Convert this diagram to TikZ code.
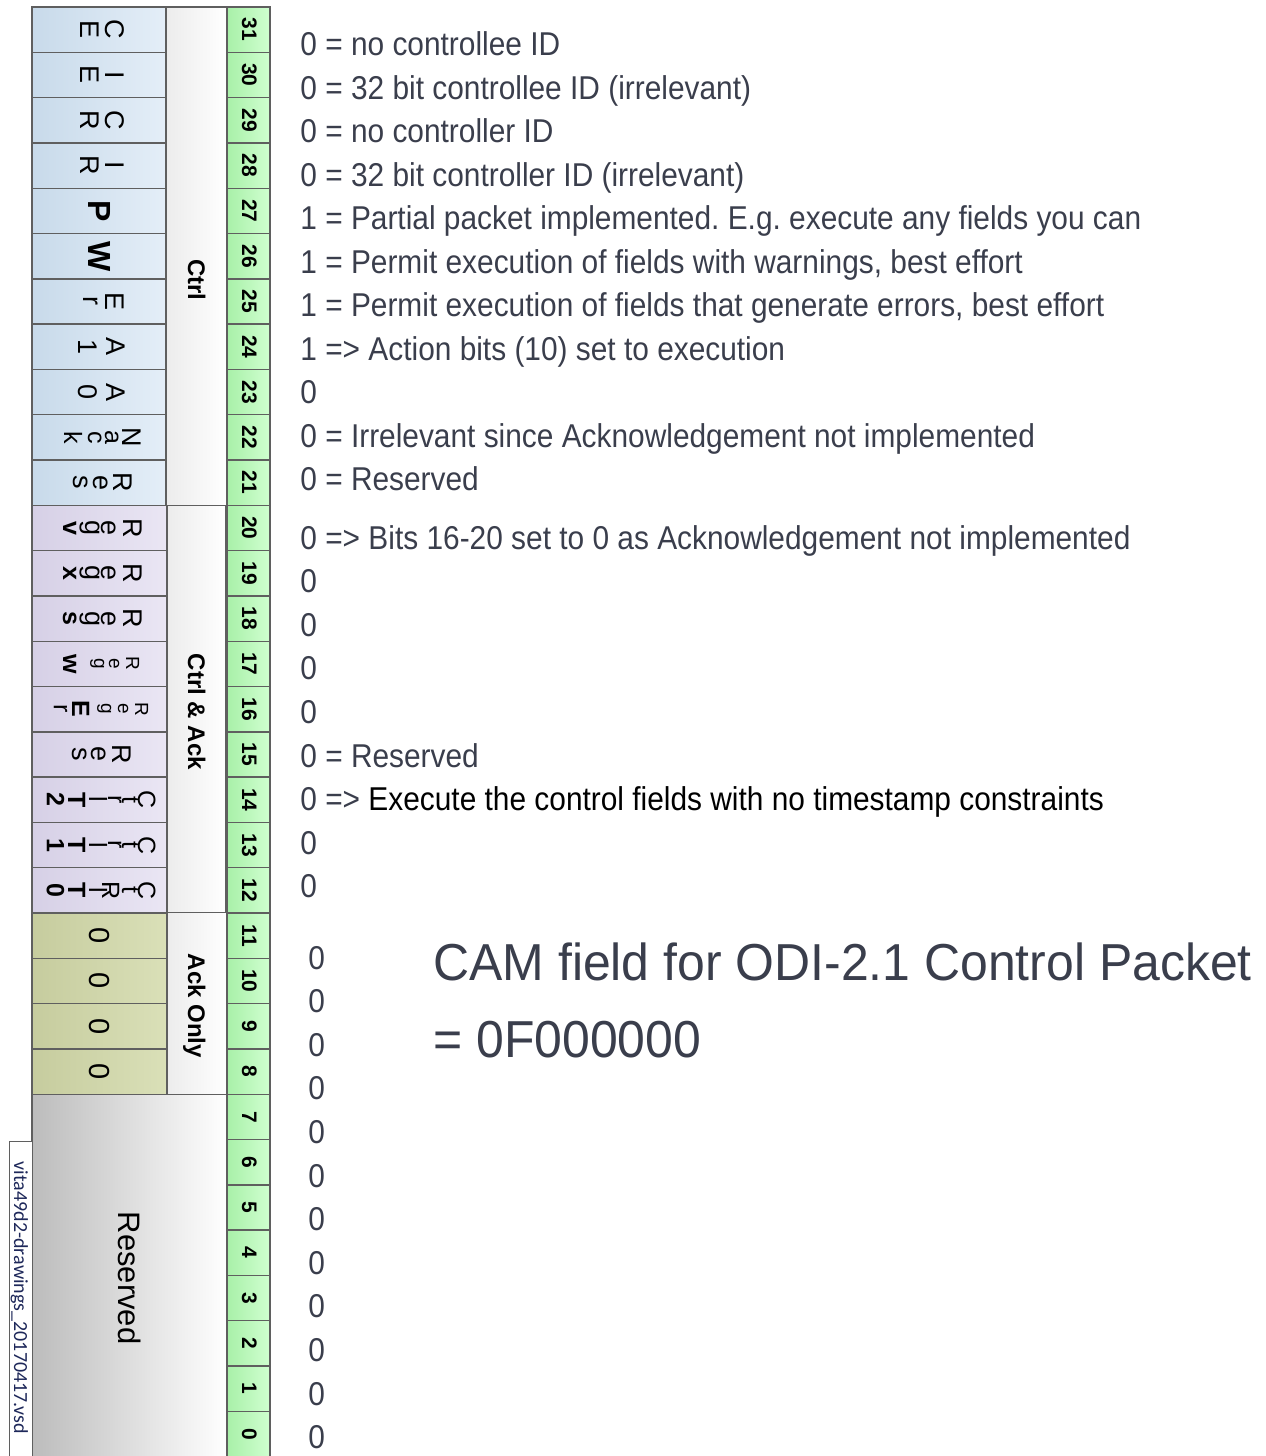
\documentclass[tikz,border=0pt]{standalone}
\usepackage{fontspec}
\setmainfont{Liberation Sans}
\newfontfamily\bodyfont[FakeStretch=0.905]{Liberation Sans}
\newfontfamily\titlefont[FakeStretch=0.96]{Liberation Sans}
\newfontfamily\filefont{Carlito}
\definecolor{txt}{RGB}{58,62,76}
\definecolor{blueL}{RGB}{200,218,234}
\definecolor{blueR}{RGB}{228,238,248}
\definecolor{purL}{RGB}{214,208,230}
\definecolor{purR}{RGB}{234,230,244}
\definecolor{oliL}{RGB}{198,204,158}
\definecolor{oliR}{RGB}{218,224,184}
\definecolor{grnL}{RGB}{168,240,168}
\definecolor{grnR}{RGB}{208,255,208}
\definecolor{lblL}{RGB}{236,236,236}
\definecolor{resL}{RGB}{188,188,188}
\definecolor{edge}{RGB}{95,95,95}
\definecolor{filetxt}{RGB}{30,40,90}
\begin{document}
\frenchspacing
\begin{tikzpicture}[x=0.5pt,y=-0.5pt,
  box/.style={draw=edge, line width=0.7pt},
  fn/.style={rotate=-90, anchor=base, inner sep=0pt, font=\fontsize{13.5}{12}\selectfont},
  fm/.style={rotate=-90, anchor=base, inner sep=0pt, font=\fontsize{12.5}{12}\selectfont},
  fs/.style={rotate=-90, anchor=base, inner sep=0pt, font=\fontsize{9.5}{10}\selectfont},
  fb/.style={rotate=-90, anchor=base, inner sep=0pt, font=\fontsize{12.5}{12}\selectfont\bfseries},
  fB/.style={rotate=-90, anchor=base, inner sep=0pt, font=\fontsize{16}{16}\selectfont\bfseries},
  fz/.style={rotate=-90, anchor=base, inner sep=0pt, font=\fontsize{14.5}{15}\selectfont},
  bitnum/.style={rotate=-90, anchor=base, inner sep=0pt, font=\fontsize{10.5}{11}\selectfont\bfseries},
  grp/.style={rotate=-90, anchor=base, inner sep=0pt, font=\fontsize{12}{12}\selectfont\bfseries},
  rtxt/.style={anchor=base west, inner sep=0pt, text=txt, font=\bodyfont\fontsize{16.5}{18}\selectfont},
  ttl/.style={anchor=base west, inner sep=0pt, text=txt, font=\titlefont\fontsize{26}{28}\selectfont}
]
\useasboundingbox (0,0) rectangle (1265,1456);
\clip (0,0) rectangle (1265,1456);

% group label column
\draw[box, left color=lblL, right color=white] (166,7) rectangle (227,505.3);
\draw[box, left color=lblL, right color=white] (167,505.3) rectangle (226,912.7);
\draw[box, left color=lblL, right color=white] (167,912.7) rectangle (227,1094.2);
\node[grp] (gctrl) at (188,280) {Ctrl};
\node[grp] (gctrlack) at (188,712) {Ctrl \& Ack};
\node[grp] (gack) at (188,1006) {Ack Only};

% field boxes
\foreach \b in {31,...,0} {
  \pgfmathsetmacro\ytop{7+(31-\b)*45.3}
  \pgfmathsetmacro\ybot{\ytop+45.3}
  \ifnum\b>20
    \draw[box, left color=blueL, right color=blueR] (32,\ytop) rectangle (166,\ybot);
  \else\ifnum\b>11
    \draw[box, left color=purL, right color=purR] (32,\ytop) rectangle (167,\ybot);
  \else\ifnum\b>7
    \draw[box, left color=oliL, right color=oliR] (32,\ytop) rectangle (167,\ybot);
  \fi\fi\fi
  \draw[box, left color=grnL, right color=grnR] (227,\ytop) rectangle (270,\ybot);
}
% reserved block
\draw[box, left color=resL, right color=white] (32,1094.2) rectangle (227,1470);
\node[rotate=-90, anchor=base, inner sep=0pt, font=\fontsize{15.5}{16}\selectfont] (resv) at (118,1278) {Reserved};

% bit numbers
\foreach \b in {31,...,0} {
  \pgfmathsetmacro\ymid{29.65+(31-\b)*45.3}
  \node[bitnum] (n\b) at (242,\ymid) {\b};
}

% field letters
\foreach \b/\y/\items in {
  31/29.65/{C/105/fn,E/80/fn},
  30/74.95/{I/105/fn,E/80/fn},
  29/120.25/{C/105/fn,R/80/fn},
  28/165.55/{I/105/fn,R/80/fn},
  27/210.85/{P/88/fB},
  26/256.15/{W/88/fB},
  25/301.45/{E/105/fn,r/83/fn},
  24/346.75/{A/106/fn,1/78/fn},
  23/392.05/{A/106/fn,0/78/fn},
  22/437.35/{N/122/fn,a/105/fm,c/88/fm,k/64/fm},
  21/482.65/{R/113/fn,e/93/fn,s/73/fn},
  20/527.95/{R/123/fn,e/101/fn,g/85/fn,v/63/fb},
  19/573.25/{R/123/fn,e/101/fn,g/85/fn,x/63/fb},
  18/618.55/{R/123/fn,e/101/fn,g/85/fn,s/63/fb},
  17/663.85/{R/126/fs,e/109/fs,g/94/fs,w/63/fb},
  16/709.15/{R/135/fs,e/118/fs,g/101/fs,E/72/fb,r/54/fm},
  15/754.45/{R/112/fn,e/91/fn,s/72/fn},
  14/799.75/{C/138/fm,t/122/fm,r/108/fm,l/89/fm,T/68/fb,2/47/fb},
  13/845.05/{C/138/fm,t/122/fm,r/108/fm,l/89/fm,T/68/fb,1/47/fb},
  12/890.35/{C/138/fm,t/122/fm,R/102/fm,l/89/fm,T/68/fb,0/47/fb},
  11/935.65/{0/89/fz},
  10/980.95/{0/89/fz},
  9/1026.25/{0/89/fz},
  8/1071.55/{0/89/fz}} {
  \foreach \c/\x/\s [count=\k] in \items {
    \node[\s] (c\b-\k) at (\x,\y) {\c};
  }
}

% file name tag
\draw[draw=edge, line width=0.5pt, fill=white] (9.5,1141) rectangle (32,1470);
\node[rotate=-90, anchor=base, inner sep=0pt, text=filetxt, font=\filefont\fontsize{10}{11}\selectfont] (fname) at (14,1298) {vita49d2-drawings\_20170417.vsd};

% descriptions
\node[rtxt] (d31) at (300,55.5) {0 = no controllee ID};
\node[rtxt] (d30) at (300,99) {0 = 32 bit controllee ID (irrelevant)};
\node[rtxt] (d29) at (300,142.5) {0 = no controller ID};
\node[rtxt] (d28) at (300,186) {0 = 32 bit controller ID (irrelevant)};
\node[rtxt] (d27) at (300,229.5) {1 = Partial packet implemented. E.g. execute any fields you can};
\node[rtxt] (d26) at (300,273) {1 = Permit execution of fields with warnings, best effort};
\node[rtxt] (d25) at (300,316.5) {1 = Permit execution of fields that generate errors, best effort};
\node[rtxt] (d24) at (300,360) {1 => Action bits (10) set to execution};
\node[rtxt] (d23) at (300,403.5) {0};
\node[rtxt] (d22) at (300,447) {0 = Irrelevant since Acknowledgement not implemented};
\node[rtxt] (d21) at (300,490.5) {0 = Reserved};
\node[rtxt] (d20) at (300,549) {0 => Bits 16-20 set to 0 as Acknowledgement not implemented};
\node[rtxt] (d19) at (300,592.6) {0};
\node[rtxt] (d18) at (300,636.2) {0};
\node[rtxt] (d17) at (300,679.8) {0};
\node[rtxt] (d16) at (300,723.4) {0};
\node[rtxt] (d15) at (300,767) {0 = Reserved};
\node[rtxt] (d14) at (300,810.6) {0 => \textcolor{black}{Execute the control fields with no timestamp constraints}};
\node[rtxt] (d13) at (300,854.2) {0};
\node[rtxt] (d12) at (300,897.8) {0};
\foreach \k in {0,...,11} {
  \pgfmathsetmacro\yb{969+\k*43.6}
  \node[rtxt] (z\k) at (308,\yb) {0};
}

% title
\node[ttl] (title1) at (433,980) {CAM field for ODI-2.1 Control Packet};
\node[ttl] (title2) at (433,1057) {= 0F000000};
\end{tikzpicture}
\end{document}
